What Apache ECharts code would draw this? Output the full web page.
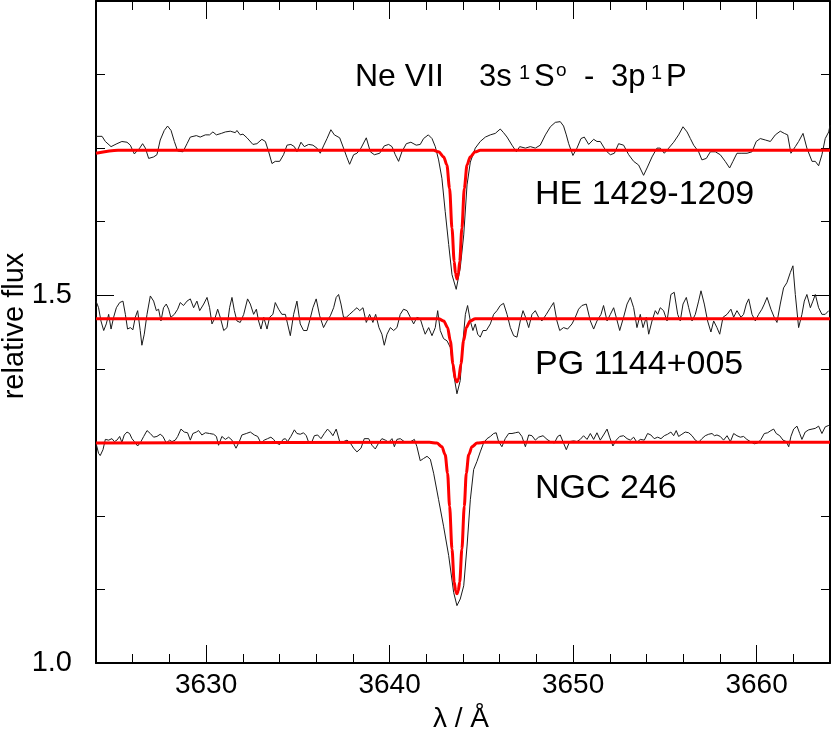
<!DOCTYPE html>
<html>
<head>
<meta charset="utf-8">
<script src="https://cdn.jsdelivr.net/npm/echarts@6/dist/echarts.min.js"></script>
<style>html,body{margin:0;padding:0;background:#fff}#chart{width:832px;height:738px}</style>
</head>
<body>
<div id="chart"></div>
<script>
// ---------- data (wavelength in Angstrom, relative flux incl. vertical offsets) ----------
const xMajorTicks = [3630, 3640, 3650, 3660];
const xMinorTicks = [3626, 3628, 3632, 3634, 3636, 3638, 3642, 3644, 3646, 3648, 3652, 3654, 3656, 3658, 3662];
const yMajorTicks = [1.0, 1.5];
const yMinorTicks = [1.1, 1.2, 1.3, 1.4, 1.6, 1.7, 1.8];

const starNames = ['HE 1429-1209', 'PG 1144+005', 'NGC 246'];
const lineTitle = ['Ne VII', '3s', '1', 'S', 'o', '-', '3p', '1', 'P'];

const heWave = [3624.00,3624.33,3624.51,3624.82,3625.14,3625.41,3625.69,3625.87,3626.09,3626.23,3626.38,3626.54,3626.69,3626.87,3627.14,3627.32,3627.50,3627.72,3627.90,3628.09,3628.27,3628.45,3628.74,3628.96,3629.14,3629.47,3629.68,3629.96,3630.19,3630.37,3630.56,3630.83,3631.05,3631.32,3631.59,3631.68,3631.86,3632.01,3632.23,3632.55,3632.77,3633.04,3633.23,3633.41,3633.59,3633.77,3634.01,3634.22,3634.41,3634.62,3634.81,3634.95,3635.17,3635.35,3635.59,3635.82,3636.04,3636.22,3636.40,3636.59,3636.80,3636.99,3637.28,3637.49,3637.68,3637.82,3638.04,3638.22,3638.44,3638.73,3638.95,3639.17,3639.46,3639.71,3639.95,3640.13,3640.31,3640.49,3640.67,3640.91,3641.16,3641.45,3641.67,3641.85,3642.11,3642.31,3642.49,3642.67,3642.85,3643.03,3643.22,3643.40,3643.63,
 3643.85,3644.04,3644.22,3644.40,3644.67,3644.94,3645.22,3645.49,3645.76,3646.03,3646.21,3646.40,3646.67,3646.91,3647.09,3647.40,3647.67,3647.94,3648.21,3648.49,3648.76,3649.03,3649.30,3649.48,3649.63,3649.76,3649.99,3650.21,3650.43,3650.61,3650.85,3651.12,3651.30,3651.48,3651.70,3651.85,3652.03,3652.25,3652.48,3652.75,3653.03,3653.30,3653.57,3653.84,3654.03,3654.30,3654.57,3654.75,3654.97,3655.21,3655.48,3655.75,3655.99,3656.21,3656.39,3656.57,3656.84,3657.02,3657.26,3657.48,3657.75,3658.02,3658.29,3658.53,3658.71,3658.93,3659.20,3659.48,3659.75,3659.98,3660.20,3660.48,3660.75,3661.02,3661.29,3661.51,3661.69,3661.87,3662.11,3662.29,3662.53,3662.74,3663.02,3663.20,3663.38,3663.56,3663.74,3663.93,3664.00];
const heFlux = [1.716,1.716,1.709,1.702,1.706,1.709,1.708,1.704,1.692,1.696,1.700,1.706,1.700,1.686,1.688,1.691,1.711,1.724,1.730,1.724,1.709,1.696,1.695,1.706,1.715,1.717,1.715,1.718,1.718,1.722,1.718,1.720,1.722,1.723,1.721,1.724,1.718,1.719,1.714,1.705,1.706,1.712,1.709,1.695,1.679,1.682,1.682,1.691,1.704,1.705,1.702,1.695,1.708,1.702,1.705,1.704,1.700,1.693,1.703,1.713,1.725,1.718,1.714,1.700,1.687,1.678,1.691,1.693,1.700,1.714,1.695,1.691,1.693,1.703,1.705,1.702,1.691,1.682,1.695,1.706,1.708,1.704,1.705,1.713,1.718,1.713,1.702,1.684,1.659,1.614,1.569,1.528,1.508,
 1.537,1.582,1.650,1.681,1.700,1.709,1.715,1.718,1.720,1.726,1.721,1.715,1.704,1.695,1.702,1.700,1.702,1.700,1.704,1.718,1.729,1.735,1.736,1.730,1.718,1.706,1.690,1.700,1.713,1.715,1.705,1.712,1.709,1.709,1.700,1.695,1.691,1.693,1.706,1.704,1.691,1.682,1.677,1.663,1.673,1.688,1.700,1.700,1.693,1.700,1.708,1.718,1.729,1.722,1.713,1.704,1.695,1.684,1.686,1.695,1.695,1.691,1.682,1.673,1.682,1.693,1.693,1.693,1.695,1.709,1.713,1.711,1.709,1.718,1.723,1.720,1.718,1.693,1.702,1.709,1.720,1.700,1.682,1.682,1.676,1.691,1.713,1.722,1.731];

const pgWave = [3624.00,3624.14,3624.27,3624.42,3624.56,3624.69,3624.82,3624.96,3625.11,3625.29,3625.47,3625.60,3625.72,3625.87,3626.01,3626.14,3626.27,3626.41,3626.50,3626.63,3626.78,3626.96,3627.14,3627.29,3627.41,3627.54,3627.68,3627.83,3627.96,3628.08,3628.27,3628.45,3628.59,3628.77,3628.96,3629.14,3629.32,3629.50,3629.65,3629.87,3630.05,3630.19,3630.32,3630.50,3630.63,3630.77,3630.96,3631.14,3631.28,3631.41,3631.54,3631.68,3631.86,3632.05,3632.26,3632.41,3632.59,3632.74,3632.86,3632.99,3633.14,3633.32,3633.46,3633.64,3633.77,3633.95,3634.13,3634.32,3634.44,3634.59,3634.77,3634.95,3635.13,3635.31,3635.50,3635.64,3635.82,3636.00,3636.19,3636.40,3636.59,3636.77,3636.95,3637.09,3637.22,3637.35,3637.49,3637.64,3637.82,3638.04,3638.22,3638.37,3638.55,3638.73,3638.91,3639.09,3639.24,3639.42,3639.58,3639.71,3639.86,3640.04,3640.22,3640.40,3640.58,3640.76,3640.95,3641.13,3641.31,3641.49,3641.67,3641.82,3641.94,3642.13,3642.31,3642.49,3642.62,3642.76,3642.94,3643.13,3643.31,3643.49,3643.67,
 3643.85,3644.00,3644.13,3644.25,3644.40,3644.54,3644.67,3644.80,3644.94,3645.09,3645.27,3645.49,3645.67,3645.85,3646.03,3646.21,3646.40,3646.58,3646.76,3646.94,3647.12,3647.27,3647.41,3647.58,3647.76,3647.94,3648.12,3648.30,3648.54,3648.76,3648.94,3649.12,3649.27,3649.48,3649.70,3649.94,3650.12,3650.30,3650.48,3650.72,3650.94,3651.12,3651.30,3651.52,3651.66,3651.85,3652.03,3652.21,3652.35,3652.54,3652.75,3652.94,3653.12,3653.30,3653.48,3653.66,3653.81,3653.99,3654.12,3654.30,3654.48,3654.61,3654.75,3654.93,3655.12,3655.33,3655.51,3655.70,3655.84,3655.99,3656.17,3656.30,3656.48,3656.66,3656.84,3656.97,3657.15,3657.33,3657.51,3657.66,3657.84,3657.99,3658.17,3658.39,3658.60,3658.75,3658.93,3659.15,3659.29,3659.44,3659.57,3659.75,3659.93,3660.11,3660.29,3660.42,3660.57,3660.78,3660.96,3661.11,3661.29,3661.47,3661.65,3661.84,3661.98,3662.11,3662.29,3662.47,3662.60,3662.74,3662.93,3663.07,3663.20,3663.38,3663.56,3663.74,3663.93];
const pgFlux = [1.492,1.483,1.465,1.452,1.461,1.474,1.454,1.470,1.483,1.490,1.492,1.474,1.454,1.456,1.453,1.470,1.479,1.452,1.432,1.447,1.474,1.499,1.492,1.479,1.481,1.465,1.483,1.488,1.481,1.470,1.474,1.481,1.490,1.486,1.492,1.495,1.483,1.492,1.479,1.488,1.497,1.483,1.461,1.470,1.481,1.470,1.452,1.456,1.483,1.497,1.479,1.465,1.463,1.474,1.495,1.488,1.474,1.481,1.465,1.454,1.470,1.454,1.470,1.474,1.490,1.481,1.474,1.474,1.461,1.445,1.474,1.492,1.461,1.452,1.452,1.465,1.483,1.495,1.472,1.456,1.465,1.472,1.483,1.497,1.501,1.488,1.470,1.470,1.474,1.479,1.483,1.479,1.483,1.463,1.474,1.463,1.474,1.456,1.447,1.432,1.447,1.456,1.452,1.456,1.474,1.481,1.479,1.470,1.461,1.470,1.468,1.456,1.447,1.456,1.445,1.456,1.479,1.452,1.441,1.438,1.429,1.393,1.366,
 1.384,1.438,1.474,1.486,1.465,1.452,1.461,1.447,1.443,1.452,1.452,1.461,1.474,1.479,1.486,1.489,1.474,1.456,1.445,1.443,1.465,1.479,1.470,1.456,1.474,1.479,1.470,1.465,1.474,1.483,1.490,1.465,1.452,1.456,1.454,1.461,1.470,1.481,1.486,1.488,1.465,1.454,1.465,1.474,1.486,1.465,1.474,1.483,1.470,1.452,1.470,1.488,1.497,1.483,1.456,1.474,1.456,1.470,1.447,1.465,1.479,1.474,1.483,1.479,1.465,1.501,1.504,1.474,1.465,1.488,1.497,1.483,1.465,1.474,1.492,1.506,1.488,1.465,1.450,1.465,1.456,1.447,1.470,1.474,1.481,1.470,1.479,1.470,1.474,1.488,1.495,1.474,1.465,1.474,1.481,1.488,1.497,1.481,1.470,1.463,1.488,1.510,1.517,1.531,1.540,1.501,1.456,1.474,1.492,1.501,1.483,1.492,1.501,1.483,1.474,1.474,1.479];

const ngcWave = [3624.00,3624.14,3624.23,3624.38,3624.51,3624.69,3624.87,3625.00,3625.14,3625.29,3625.41,3625.54,3625.69,3625.83,3625.96,3626.09,3626.27,3626.45,3626.60,3626.78,3626.96,3627.14,3627.32,3627.50,3627.65,3627.83,3628.01,3628.14,3628.32,3628.45,3628.63,3628.81,3628.99,3629.14,3629.28,3629.47,3629.59,3629.77,3629.96,3630.19,3630.41,3630.56,3630.68,3630.86,3631.05,3631.23,3631.41,3631.63,3631.81,3631.95,3632.19,3632.41,3632.63,3632.81,3632.99,3633.17,3633.35,3633.53,3633.68,3633.82,3634.01,3634.19,3634.32,3634.44,3634.62,3634.81,3634.95,3635.13,3635.31,3635.46,3635.59,3635.77,3635.90,3636.08,3636.26,3636.44,3636.62,3636.77,3636.91,3637.09,3637.28,3637.49,3637.68,3637.86,3638.04,3638.22,3638.44,3638.62,3638.86,3639.04,3639.22,3639.40,3639.58,3639.77,3639.95,3640.13,3640.26,3640.40,3640.58,3640.80,3641.04,3641.22,3641.35,3641.49,3641.67,3641.85,3642.04,3642.22,3642.40,3642.67,3642.94,3643.22,3643.49,3643.67,
 3643.85,3644.04,3644.22,3644.40,3644.58,3644.76,3644.94,3645.12,3645.31,3645.49,3645.67,3645.81,3645.94,3646.12,3646.30,3646.49,3646.67,3646.85,3647.03,3647.21,3647.40,3647.58,3647.76,3647.94,3648.12,3648.36,3648.58,3648.76,3648.98,3649.16,3649.30,3649.48,3649.63,3649.81,3650.03,3650.21,3650.39,3650.57,3650.76,3650.94,3651.12,3651.30,3651.48,3651.66,3651.85,3651.99,3652.17,3652.35,3652.54,3652.75,3652.94,3653.12,3653.30,3653.48,3653.66,3653.88,3654.06,3654.24,3654.42,3654.61,3654.79,3654.97,3655.15,3655.33,3655.48,3655.62,3655.75,3655.93,3656.11,3656.30,3656.48,3656.66,3656.84,3657.02,3657.20,3657.39,3657.57,3657.70,3657.84,3658.02,3658.20,3658.39,3658.57,3658.75,3658.93,3659.11,3659.29,3659.47,3659.66,3659.87,3660.06,3660.24,3660.42,3660.60,3660.78,3660.93,3661.07,3661.26,3661.44,3661.62,3661.75,3661.87,3662.02,3662.20,3662.35,3662.47,3662.65,3662.84,3663.02,3663.20,3663.38,3663.56,3663.74,3663.93,3664.00];
const ngcFlux = [1.299,1.285,1.282,1.290,1.304,1.303,1.305,1.301,1.303,1.308,1.300,1.310,1.314,1.312,1.305,1.301,1.295,1.301,1.308,1.316,1.312,1.307,1.308,1.311,1.308,1.299,1.303,1.301,1.303,1.308,1.318,1.314,1.313,1.303,1.312,1.314,1.316,1.310,1.313,1.312,1.311,1.308,1.296,1.308,1.304,1.307,1.303,1.292,1.301,1.310,1.312,1.314,1.310,1.308,1.299,1.303,1.305,1.307,1.304,1.299,1.297,1.304,1.305,1.301,1.308,1.317,1.312,1.311,1.313,1.309,1.300,1.301,1.309,1.310,1.305,1.312,1.318,1.314,1.309,1.318,1.301,1.301,1.303,1.299,1.292,1.287,1.292,1.305,1.305,1.296,1.291,1.299,1.305,1.303,1.300,1.305,1.294,1.304,1.305,1.301,1.300,1.302,1.304,1.294,1.275,1.278,1.281,1.277,1.258,1.222,1.186,1.146,1.096,1.078,
 1.087,1.105,1.159,1.222,1.263,1.274,1.287,1.299,1.305,1.308,1.312,1.313,1.301,1.294,1.305,1.312,1.312,1.313,1.314,1.308,1.294,1.310,1.309,1.303,1.307,1.309,1.304,1.301,1.299,1.308,1.310,1.299,1.290,1.301,1.302,1.301,1.304,1.309,1.304,1.312,1.304,1.313,1.303,1.310,1.318,1.307,1.295,1.303,1.308,1.309,1.305,1.303,1.307,1.300,1.304,1.303,1.312,1.310,1.305,1.307,1.305,1.309,1.311,1.314,1.309,1.316,1.308,1.311,1.314,1.313,1.309,1.303,1.300,1.305,1.309,1.311,1.312,1.309,1.310,1.308,1.303,1.309,1.301,1.312,1.309,1.307,1.308,1.304,1.301,1.298,1.299,1.304,1.312,1.313,1.316,1.318,1.312,1.309,1.303,1.301,1.294,1.308,1.318,1.322,1.312,1.304,1.314,1.317,1.318,1.319,1.322,1.312,1.321,1.323,1.321];

// model (red) profiles
const heModelWave = [3624.0,3625.2,3642.40,3642.67,3642.95,3643.12,3643.27,3643.40,3643.52,3643.59,3643.67,3643.75,3643.82,3643.94,3644.07,3644.22,3644.39,3644.67,3644.94,3664.0];
const heModelFlux = [1.693,1.697,1.697,1.695,1.688,1.677,1.645,1.591,1.546,1.530,1.522,1.530,1.546,1.591,1.645,1.677,1.688,1.695,1.697,1.697];
const pgModelWave = [3624.0,3642.67,3642.95,3643.16,3643.31,3643.45,3643.58,3643.67,3643.76,3643.89,3644.03,3644.18,3644.39,3644.67,3664.0];
const pgModelFlux = [1.468,1.468,1.465,1.456,1.438,1.407,1.386,1.382,1.386,1.407,1.438,1.456,1.465,1.468,1.468];
const ngcModelWave = [3624.0,3642.17,3642.57,3642.85,3643.03,3643.16,3643.27,3643.40,3643.52,3643.60,3643.67,3643.74,3643.82,3643.94,3644.07,3644.18,3644.31,3644.49,3644.77,3645.17,3664.0];
const ngcModelFlux = [1.299,1.300,1.299,1.294,1.283,1.258,1.213,1.155,1.110,1.098,1.094,1.098,1.110,1.155,1.213,1.258,1.283,1.294,1.299,1.300,1.300];

// ---------- chart ----------
const zip = (a, b) => a.map((v, i) => [v, b[i]]);
const FONT = '"Liberation Sans", Arial, Helvetica, sans-serif';
const chart = echarts.init(document.getElementById('chart'), null, {renderer: 'canvas'});

function xAx(pos, ticks, len, showLine, labels) {
  return {
    type: 'value', min: 3624, max: 3664, position: pos,
    axisLine: {show: showLine, onZero: false, lineStyle: {color: '#000', width: 2}},
    axisTick: {show: true, inside: true, length: len, customValues: ticks, lineStyle: {color: '#000', width: 1}},
    axisLabel: labels ? {show: true, customValues: ticks, fontSize: 28, color: '#000', fontFamily: FONT, margin: 8,
      formatter: v => String(Math.round(v))} : {show: false},
    splitLine: {show: false}
  };
}
function yAx(pos, ticks, len, showLine, labels) {
  return {
    type: 'value', min: 1.0, max: 1.9, position: pos,
    axisLine: {show: showLine, onZero: false, lineStyle: {color: '#000', width: 2}},
    axisTick: {show: true, inside: true, length: len, customValues: ticks, lineStyle: {color: '#000', width: 1}},
    axisLabel: labels ? {show: true, customValues: ticks, fontSize: 29, color: '#000', fontFamily: FONT, margin: 24,
      formatter: v => Number(v).toFixed(1)} : {show: false},
    splitLine: {show: false}
  };
}

const blackStyle = {color: '#1a1a1a', width: 1};
const redStyle = {color: '#ff0000', width: 3};
function lineSeries(data, style, smooth, z) {
  return {type: 'line', data: data, xAxisIndex: 0, yAxisIndex: 0, showSymbol: false, symbol: 'none',
    smooth: smooth, smoothMonotone: 'x', lineStyle: style, itemStyle: {color: style.color}, z: z, silent: true, animation: false};
}

const t = (text, x, y, size, extra) => Object.assign({
  type: 'text', x: x, y: y, silent: true,
  style: {text: text, fill: '#000', font: size + 'px ' + FONT, align: 'left', verticalAlign: 'middle',
    textAlign: 'left', textVerticalAlign: 'middle'}
}, extra || {});

chart.setOption({
  animation: false,
  backgroundColor: '#fff',
  textStyle: {fontFamily: FONT},
  grid: {left: 96, right: 2, top: 1, bottom: 75, containLabel: false},
  xAxis: [
    xAx('bottom', xMajorTicks, 18, true, true),
    xAx('bottom', xMinorTicks, 9, false, false),
    xAx('top', xMajorTicks, 18, true, false),
    xAx('top', xMinorTicks, 9, false, false)
  ],
  yAxis: [
    yAx('left', yMajorTicks, 18, true, true),
    yAx('left', yMinorTicks, 9, false, false),
    yAx('right', yMajorTicks, 18, true, false),
    yAx('right', yMinorTicks, 9, false, false)
  ],
  series: [
    lineSeries(zip(heWave, heFlux), blackStyle, false, 2),
    lineSeries(zip(pgWave, pgFlux), blackStyle, false, 2),
    lineSeries(zip(ngcWave, ngcFlux), blackStyle, false, 2),
    lineSeries(zip(heModelWave, heModelFlux), redStyle, 0.3, 3),
    lineSeries(zip(pgModelWave, pgModelFlux), redStyle, 0.3, 3),
    lineSeries(zip(ngcModelWave, ngcModelFlux), redStyle, 0.3, 3)
  ],
  graphic: [
    t(lineTitle[0], 355, 77, 32),
    t(lineTitle[1], 479, 77, 31),
    t(lineTitle[2], 519, 73.5, 20),
    t(lineTitle[3], 534, 77, 31),
    t(lineTitle[4], 556, 71, 19),
    t(lineTitle[5], 584, 77, 31),
    t(lineTitle[6], 611, 77, 31),
    t(lineTitle[7], 651, 73.5, 20),
    t(lineTitle[8], 666, 77, 31),
    t(starNames[0], 535, 195, 34),
    t(starNames[1], 535, 365, 34),
    t(starNames[2], 535, 489, 34),
    {type: 'text', x: 461, y: 719, silent: true,
      style: {text: 'λ / Å', fill: '#000', font: '28px ' + FONT, align: 'center', verticalAlign: 'middle', textAlign: 'center', textVerticalAlign: 'middle'}},
    {type: 'text', x: 15, y: 326, rotation: Math.PI / 2, silent: true,
      style: {text: 'relative flux', fill: '#000', font: '29px ' + FONT, align: 'center', verticalAlign: 'middle', textAlign: 'center', textVerticalAlign: 'middle'}}
  ]
});
</script>
</body>
</html>
